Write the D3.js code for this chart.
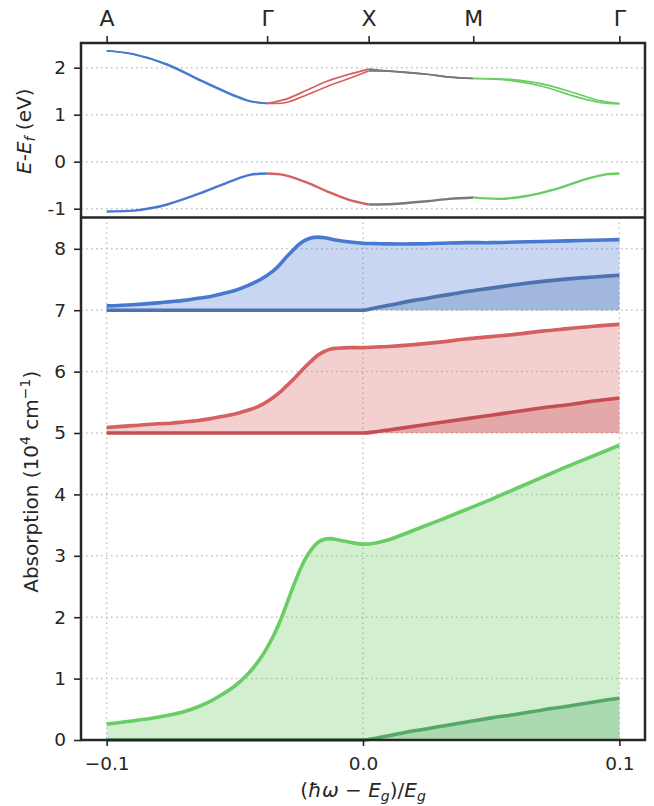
<!DOCTYPE html>
<html>
<head>
<meta charset="utf-8">
<script src="https://cdn.jsdelivr.net/npm/d3@7"></script>
<style>
  body { margin: 0; background: #fff; }
  svg { display: block; }
  text { font-family: "DejaVu Sans", sans-serif; fill: #262626; }
</style>
</head>
<body>
<svg id="chart" width="654" height="806"></svg>
<script>
// ---- Band structure along the k-path ----
const kNodes = [0, 0.313, 0.511, 0.715, 1];
const kLabels = ["A", "Γ", "X", "M", "Γ"];
const segmentColors = ["#4878d0", "#d65f5f", "#797979", "#6acc64"];

const cbK  = [0, 0.053, 0.118, 0.183, 0.248, 0.280, 0.313, 0.35, 0.39, 0.43, 0.47, 0.511, 0.559, 0.624, 0.669, 0.715, 0.786, 0.851, 0.916, 0.961, 1];
const cb1E = [2.36, 2.29, 2.08, 1.74, 1.42, 1.29, 1.24, 1.33, 1.52, 1.71, 1.85, 1.97, 1.92, 1.86, 1.80, 1.77, 1.75, 1.65, 1.45, 1.30, 1.24];
const cb2E = [2.36, 2.28, 2.06, 1.72, 1.40, 1.28, 1.24, 1.26, 1.42, 1.60, 1.76, 1.93, 1.92, 1.86, 1.80, 1.77, 1.73, 1.60, 1.38, 1.26, 1.23];

const vbK = [0, 0.053, 0.085, 0.118, 0.183, 0.248, 0.280, 0.313, 0.345, 0.39, 0.43, 0.47, 0.511, 0.559, 0.624, 0.669, 0.715, 0.767, 0.819, 0.870, 0.935, 0.974, 1];
const vbE = [-1.06, -1.04, -0.99, -0.91, -0.67, -0.39, -0.28, -0.25, -0.28, -0.44, -0.63, -0.80, -0.91, -0.90, -0.84, -0.79, -0.76, -0.79, -0.73, -0.60, -0.37, -0.27, -0.25];

const bandTicks = [-1, 0, 1, 2];

// ---- Absorption spectra (stacked at offsets 7, 5, 0) ----
const energy = [-0.1, -0.09, -0.08, -0.075, -0.07, -0.065, -0.06, -0.055, -0.05, -0.045, -0.04, -0.035, -0.0325,
                -0.03, -0.0275, -0.025, -0.0225, -0.02, -0.0175, -0.015, -0.0125, -0.01, -0.005,
                0, 0.005, 0.01, 0.02, 0.03, 0.04, 0.05, 0.06, 0.07, 0.08, 0.09, 0.1];

const blueTotal = [7.07, 7.09, 7.12, 7.14, 7.16, 7.19, 7.22, 7.27, 7.32, 7.40, 7.50, 7.64, 7.74,
                   7.86, 7.97, 8.07, 8.14, 8.18, 8.19, 8.18, 8.16, 8.14, 8.11,
                   8.09, 8.085, 8.08, 8.08, 8.09, 8.10, 8.10, 8.11, 8.12, 8.13, 8.14, 8.15];
const blueFree  = [7, 7, 7, 7, 7, 7, 7, 7, 7, 7, 7, 7, 7,
                   7, 7, 7, 7, 7, 7, 7, 7, 7, 7,
                   7, 7.04, 7.08, 7.16, 7.23, 7.30, 7.36, 7.42, 7.47, 7.51, 7.54, 7.57];

const redTotal  = [5.09, 5.12, 5.15, 5.16, 5.18, 5.20, 5.23, 5.27, 5.31, 5.37, 5.45, 5.58, 5.66,
                   5.76, 5.86, 5.97, 6.08, 6.18, 6.27, 6.33, 6.37, 6.38, 6.39,
                   6.39, 6.40, 6.41, 6.44, 6.48, 6.53, 6.57, 6.61, 6.66, 6.70, 6.74, 6.77];
const redFree   = [5, 5, 5, 5, 5, 5, 5, 5, 5, 5, 5, 5, 5,
                   5, 5, 5, 5, 5, 5, 5, 5, 5, 5,
                   5, 5.02, 5.05, 5.11, 5.17, 5.23, 5.29, 5.35, 5.41, 5.46, 5.52, 5.57];

const greenTotal = [0.26, 0.31, 0.37, 0.41, 0.46, 0.53, 0.62, 0.74, 0.88, 1.07, 1.33, 1.69, 1.92,
                    2.19, 2.47, 2.73, 2.95, 3.11, 3.22, 3.27, 3.28, 3.26, 3.22,
                    3.19, 3.21, 3.26, 3.42, 3.58, 3.75, 3.92, 4.10, 4.28, 4.46, 4.63, 4.80];
const greenFree  = [0, 0, 0, 0, 0, 0, 0, 0, 0, 0, 0, 0, 0,
                    0, 0, 0, 0, 0, 0, 0, 0, 0, 0,
                    0, 0.03, 0.07, 0.15, 0.22, 0.29, 0.36, 0.42, 0.49, 0.55, 0.62, 0.68];

const offsets = [7, 5, 0];
const lightColors = ["#4878d0", "#d65f5f", "#6acc64"];
const darkColors  = ["#4c72b0", "#c44e52", "#55a868"];
const totals = [blueTotal, redTotal, greenTotal];
const frees  = [blueFree, redFree, greenFree];

const absTicks = [0, 1, 2, 3, 4, 5, 6, 7, 8];
const energyTicks = [-0.1, 0, 0.1];

// ---- Layout ----
const L = 81, R = 645, T = 43, M = 217.5, B = 740;
const svg = d3.select("#chart");

const x = d3.scaleLinear().domain([-0.11, 0.11]).range([L, R]);
const xK = d3.scaleLinear().domain([0, 1]).range([x(-0.1), x(0.1)]);
const yBand = d3.scaleLinear().domain([-1.187, 2.525]).range([M, T]);
const yAbs = d3.scaleLinear().domain([0, 8.51]).range([B, M]);

const smooth = d3.curveCatmullRom.alpha(0.5);

const gridStyle = g => g.attr("stroke", "#c4c4c4").attr("stroke-width", 1.5)
  .attr("stroke-dasharray", "1.6,3.4").attr("fill", "none");

// grid lines
const grid = svg.append("g");
grid.selectAll(".gb").data(bandTicks).join("line").attr("class", "gb")
  .attr("x1", L).attr("x2", R).attr("y1", d => yBand(d)).attr("y2", d => yBand(d)).call(gridStyle);
grid.selectAll(".ga").data(absTicks).join("line").attr("class", "ga")
  .attr("x1", L).attr("x2", R).attr("y1", d => yAbs(d)).attr("y2", d => yAbs(d)).call(gridStyle);
grid.selectAll(".gx").data(energyTicks).join("line").attr("class", "gx")
  .attr("x1", d => x(d)).attr("x2", d => x(d)).attr("y1", M).attr("y2", B).call(gridStyle);

// ---- Band lines, coloured per path segment ----
const bandLine = d3.line().x(d => xK(d[0])).y(d => yBand(d[1])).curve(smooth);
const bands = [
  { k: vbK, e: vbE, w: 2.4 },
  { k: cbK, e: cb1E, w: 1.7 },
  { k: cbK, e: cb2E, w: 1.7 }
];
const bandG = svg.append("g");
bands.forEach(b => {
  for (let s = 0; s < 4; s++) {
    const pts = b.k.map((k, i) => [k, b.e[i]])
      .filter(p => p[0] >= kNodes[s] - 1e-9 && p[0] <= kNodes[s + 1] + 1e-9);
    bandG.append("path").attr("d", bandLine(pts))
      .attr("fill", "none").attr("stroke", segmentColors[s])
      .attr("stroke-width", b.w);
  }
});

// ---- Absorption fills and lines ----
const absG = svg.append("g");
offsets.forEach((off, j) => {
  const tot = energy.map((e, i) => [e, totals[j][i]]);
  const fr = energy.map((e, i) => [e, frees[j][i]]);
  const areaTot = d3.area().x(d => x(d[0])).y0(yAbs(off)).y1(d => yAbs(d[1])).curve(smooth);
  const areaFr = d3.area().x(d => x(d[0])).y0(yAbs(off)).y1(d => yAbs(d[1])).curve(d3.curveMonotoneX);
  const lineTot = d3.line().x(d => x(d[0])).y(d => yAbs(d[1])).curve(smooth);
  const lineFr = d3.line().x(d => x(d[0])).y(d => yAbs(d[1])).curve(d3.curveMonotoneX);
  absG.append("path").attr("d", areaTot(tot)).attr("fill", lightColors[j]).attr("fill-opacity", 0.3);
  absG.append("path").attr("d", areaFr(fr)).attr("fill", darkColors[j]).attr("fill-opacity", 0.3);
  absG.append("path").attr("d", lineFr(fr)).attr("fill", "none").attr("stroke", darkColors[j]).attr("stroke-width", 3.6);
  absG.append("path").attr("d", lineTot(tot)).attr("fill", "none").attr("stroke", lightColors[j]).attr("stroke-width", 3.6);
});

// ---- Axes ----
const styleAxis = (g, fs) => {
  g.select(".domain").remove();
  g.selectAll(".tick line").attr("stroke", "#262626").attr("stroke-width", 1.6);
  g.selectAll(".tick text").attr("fill", "#262626").attr("font-size", fs)
    .attr("font-family", "'DejaVu Sans', sans-serif");
};

svg.append("g").attr("transform", `translate(${L},0)`)
  .call(d3.axisLeft(yBand).tickValues(bandTicks).tickSize(7).tickPadding(8)
    .tickFormat(d => (d < 0 ? "-" + Math.abs(d) : String(d))))
  .call(g => styleAxis(g, 18.5));

svg.append("g").attr("transform", `translate(${L},0)`)
  .call(d3.axisLeft(yAbs).tickValues(absTicks).tickSize(7).tickPadding(8).tickFormat(d3.format("d")))
  .call(g => styleAxis(g, 18.5));

svg.append("g").attr("transform", `translate(0,${B})`)
  .call(d3.axisBottom(x).tickValues(energyTicks).tickSize(6).tickPadding(11).tickFormat(d3.format(".1f")))
  .call(g => styleAxis(g, 18.5));

svg.append("g").attr("transform", `translate(0,${T})`)
  .call(d3.axisTop(xK).tickValues(kNodes).tickSize(7).tickPadding(10).tickFormat((d, i) => kLabels[i]))
  .call(g => styleAxis(g, 22));

// ---- Spines ----
const spine = svg.append("g").attr("stroke", "#262626").attr("stroke-width", 2.5).attr("fill", "none");
spine.append("path").attr("d", `M${L},${B} L${L},${T} L${R},${T} L${R},${B} Z`);
spine.append("line").attr("x1", L).attr("x2", R).attr("y1", M).attr("y2", M);

// ---- Axis labels ----
const yl1 = svg.append("text").attr("font-size", 20)
  .attr("text-anchor", "middle").attr("transform", `translate(31,${(T + M) / 2 + 1}) rotate(-90)`);
yl1.append("tspan").attr("font-style", "italic").text("E");
yl1.append("tspan").text("-");
yl1.append("tspan").attr("font-style", "italic").text("E");
yl1.append("tspan").attr("font-style", "italic").attr("font-size", 14).attr("dy", 4).text("f");
yl1.append("tspan").attr("dy", -4).text(" (eV)");

const yl2 = svg.append("text").attr("font-size", 20)
  .attr("text-anchor", "middle").attr("transform", `translate(38,${(M + B) / 2 + 3}) rotate(-90)`);
yl2.append("tspan").text("Absorption (10");
yl2.append("tspan").attr("font-size", 14).attr("dy", -8).text("4");
yl2.append("tspan").attr("dy", 8).text(" cm");
yl2.append("tspan").attr("font-size", 14).attr("dy", -8).text("−1");
yl2.append("tspan").attr("dy", 8).text(")");

const xl = svg.append("text").attr("font-size", 20)
  .attr("text-anchor", "middle").attr("x", x(0)).attr("y", 797);
xl.append("tspan").text("(");
xl.append("tspan").attr("font-style", "italic").text("ħω");
xl.append("tspan").text(" − ");
xl.append("tspan").attr("font-style", "italic").text("E");
xl.append("tspan").attr("font-style", "italic").attr("font-size", 14).attr("dy", 4).text("g");
xl.append("tspan").attr("dy", -4).text(")/");
xl.append("tspan").attr("font-style", "italic").text("E");
xl.append("tspan").attr("font-style", "italic").attr("font-size", 14).attr("dy", 4).text("g");
</script>
</body>
</html>
